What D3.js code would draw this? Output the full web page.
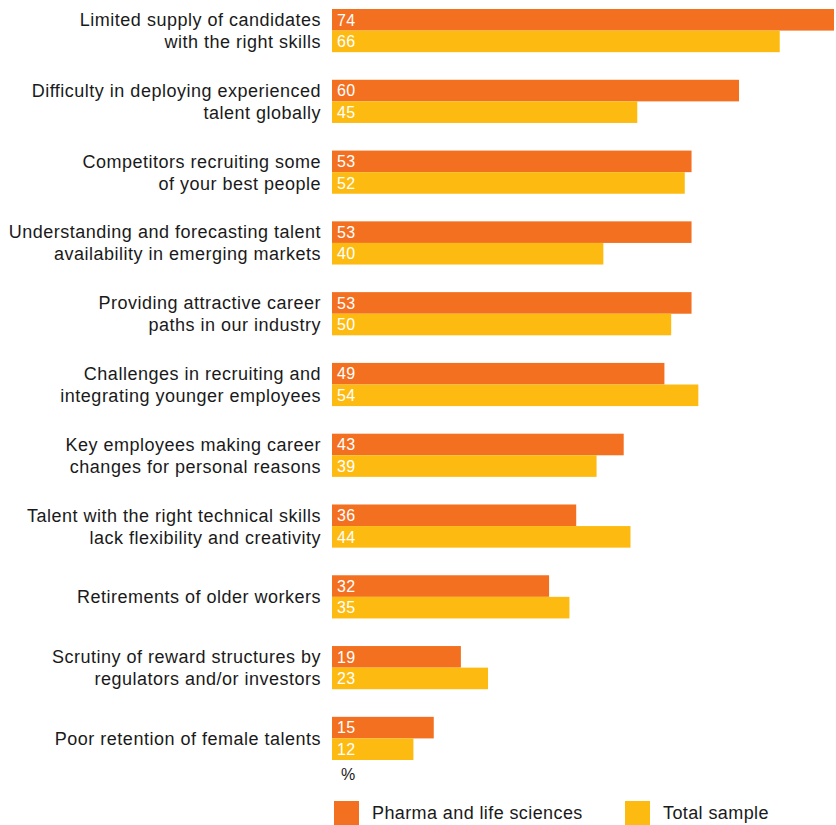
<!DOCTYPE html>
<html>
<head>
<meta charset="utf-8">
<script src="https://cdn.jsdelivr.net/npm/d3@7"></script>
<style>
  body { margin: 0; background: #fff; }
  text { font-family: "Liberation Sans", Arial, Helvetica, sans-serif; }
</style>
</head>
<body>
<script>
var categories = [
    ["Limited supply of candidates", "with the right skills"],
    ["Difficulty in deploying experienced", "talent globally"],
    ["Competitors recruiting some", "of your best people"],
    ["Understanding and forecasting talent", "availability in emerging markets"],
    ["Providing attractive career", "paths in our industry"],
    ["Challenges in recruiting and", "integrating younger employees"],
    ["Key employees making career", "changes for personal reasons"],
    ["Talent with the right technical skills", "lack flexibility and creativity"],
    ["Retirements of older workers"],
    ["Scrutiny of reward structures by", "regulators and/or investors"],
    ["Poor retention of female talents"]
];
var pharma = [74, 60, 53, 53, 53, 49, 43, 36, 32, 19, 15];
var total = [66, 45, 52, 40, 50, 54, 39, 44, 35, 23, 12];
var seriesNames = ["Pharma and life sciences", "Total sample"];
var colours = ["#F37021", "#FDBB12"];

const width = 836;
const height = 825;
const x0 = 332;

var data = categories.map((c, i) => ({key: i, label: c, values: [pharma[i], total[i]]}));

let svg = d3.select('body')
    .append('svg')
    .attr('width', width)
    .attr('height', height);

const xScale = d3.scaleLinear()
    .domain([0, 74])
    .range([x0, 834]);

const yScale = d3.scaleBand()
    .domain(data.map(d => d.key))
    .range([9, 760])
    .paddingInner(0.39)
    .paddingOuter(0);

const subScale = d3.scaleBand()
    .domain([0, 1])
    .range([0, yScale.bandwidth()]);

let groups = svg.selectAll('g.group')
    .data(data)
    .enter()
    .append('g')
        .attr('class', 'group')
        .attr('transform', d => `translate(0, ${yScale(d.key)})`);

// bars
groups.selectAll('rect')
    .data(d => d.values)
    .enter()
    .append('rect')
        .attr('x', xScale(0))
        .attr('y', (v, i) => subScale(i))
        .attr('width', v => xScale(v) - xScale(0))
        .attr('height', subScale.bandwidth())
        .attr('fill', (v, i) => colours[i]);

// value labels
groups.selectAll('text.val')
    .data(d => d.values)
    .enter()
    .append('text')
        .attr('class', 'val')
        .attr('x', xScale(0) + 5)
        .attr('y', (v, i) => subScale(i) + subScale.bandwidth() / 2)
        .attr('dy', '0.36em')
        .attr('fill', '#fff')
        .attr('font-size', 16)
        .attr('letter-spacing', 0.3)
        .text(v => v);

// category labels
groups.each(function(d) {
    let t = d3.select(this).append('text')
        .attr('text-anchor', 'end')
        .attr('fill', '#1a1a1a')
        .attr('font-size', 18)
        .attr('letter-spacing', 0.5);
    let n = d.label.length;
    let mid = yScale.bandwidth() / 2;
    d.label.forEach((line, j) => {
        t.append('tspan')
            .attr('x', 321)
            .attr('y', mid + (j - (n - 1) / 2) * 22)
            .attr('dy', '0.36em')
            .text(line);
    });
});

// unit
svg.append('text')
    .attr('x', 341)
    .attr('y', 780)
    .attr('font-size', 16)
    .attr('fill', '#1a1a1a')
    .text('%');

// legend
var legendX = [334, 625];
let legend = svg.selectAll('g.legend')
    .data(seriesNames)
    .enter()
    .append('g')
        .attr('class', 'legend')
        .attr('transform', (d, i) => `translate(${legendX[i]}, 801)`);

legend.append('rect')
    .attr('width', 25)
    .attr('height', 25)
    .attr('fill', (d, i) => colours[i]);

legend.append('text')
    .attr('x', 38)
    .attr('y', 12)
    .attr('dy', '0.36em')
    .attr('font-size', 18)
    .attr('letter-spacing', 0.4)
    .attr('fill', '#1a1a1a')
    .text(d => d);
</script>
</body>
</html>
